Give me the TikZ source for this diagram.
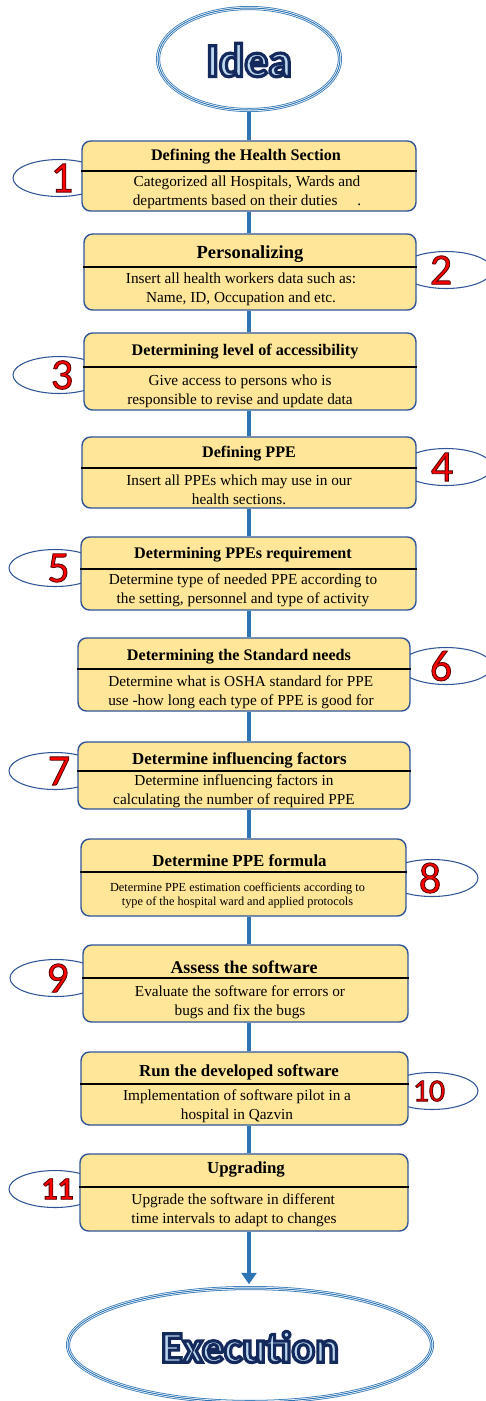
\documentclass[tikz,border=0pt]{standalone}
\usepackage{fontspec}
\setmainfont{Liberation Serif}
\newfontfamily\calibri{Carlito}
\usepackage{xcolor}
\usetikzlibrary{arrows.meta,shapes.geometric}

\definecolor{boxfill}{HTML}{FFE699}
\definecolor{boxline}{HTML}{2F5597}
\definecolor{flowblue}{HTML}{2E75B6}
\definecolor{letterfill}{HTML}{BDD7EE}
\definecolor{numred}{HTML}{FF0000}

% glyphs filled with the current colour and stroked with #1 (r g b), width #2
\newcommand{\strokedtext}[3]{\special{pdf:literal direct 2 Tr #2 w #1 RG}#3\special{pdf:literal direct 0 Tr}}
\newcommand{\bignum}[1]{\strokedtext{0.35 0 0}{0.5}{#1}}
\newcommand{\bigword}[1]{\strokedtext{0.08 0.16 0.36}{1.8}{#1}}

\begin{document}
\begin{tikzpicture}[x=0.02cm, y=-0.02cm,
  stepbox/.style={draw=boxline, line width=0.8pt, fill=boxfill, rounded corners=0.17cm, inner sep=0pt},
  steptitle/.style={font=\fontsize{9.2}{11}\selectfont\bfseries, inner sep=0pt},
  stepbody/.style={font=\fontsize{8.7}{10.8}\selectfont, align=center, inner sep=0pt},
  divider/.style={line width=0.7pt, black},
  numring/.style={ellipse, draw=boxline, line width=0.6pt, fill=white, minimum width=1.84cm, minimum height=0.74cm, inner sep=0pt},
  digit/.style={font=\calibri\fontsize{25}{25}\selectfont, text=numred, inner sep=0pt},
  endring/.style={ellipse, draw=flowblue, line width=2.3pt, fill=white, inner sep=0pt,
    postaction={draw=white, line width=1.4pt}, postaction={draw=flowblue, line width=0.55pt}},
  endtext/.style={font=\calibri\bfseries\fontsize{27}{27}\selectfont, text=letterfill},
  flow/.style={draw=flowblue, line width=2.2pt}
]
\useasboundingbox (0,0) rectangle (485,1401);

% numbered tabs behind the steps
\node[numring, label={[digit, xshift=0.06cm]center:\bignum{1}}] (n1) at (59,178) {};
\node[numring, label={[digit, xshift=-0.1cm]center:\bignum{2}}] (n2) at (446,270) {};
\node[numring, label={[digit, xshift=0.06cm]center:\bignum{3}}] (n3) at (59,375) {};
\node[numring, label={[digit, xshift=-0.08cm]center:\bignum{4}}] (n4) at (446,467) {};
\node[numring, label={[digit, xshift=0.07cm]center:\bignum{5}}] (n5) at (55,568) {};
\node[numring, label={[digit, xshift=-0.1cm]center:\bignum{6}}] (n6) at (446,666) {};
\node[numring, label={[digit, xshift=0.08cm]center:\bignum{7}}] (n7) at (55,771) {};
\node[numring, label={[digit, xshift=-0.04cm]center:\bignum{8}}] (n8) at (432,878) {};
\node[numring, label={[digit, xshift=0.03cm]center:\bignum{9}}] (n9) at (56,978) {};
\node[numring, label={[digit, font=\calibri\fontsize{18}{18}\selectfont, xshift=-0.06cm]center:\bignum{10}}] (n10) at (432,1091) {};
\node[numring, label={[digit, font=\calibri\bfseries\fontsize{18}{18}\selectfont, xshift=0.05cm]center:\bignum{11}}] (n11) at (55,1189) {};

% steps
\node[stepbox, minimum width=6.68cm, minimum height=1.40cm] (s1) at (249,176) {};
\node[steptitle] (t1) at (246,157) {Defining the Health Section};
\draw[divider] (s1.west |- 0,171) -- (s1.east |- 0,171);
\node[stepbody] (b1) at (247,192) {Categorized all Hospitals, Wards and\\departments based on their duties\hspace{1.3em}.};

\node[stepbox, minimum width=6.64cm, minimum height=1.52cm] (s2) at (250,272) {};
\node[steptitle, font=\fontsize{10.5}{12}\selectfont\bfseries] (t2) at (250,254) {Personalizing};
\draw[divider] (s2.west |- 0,267) -- (s2.east |- 0,267);
\node[stepbody] (b2) at (241,289) {Insert all health workers data such as:\\Name, ID, Occupation and etc.};

\node[stepbox, minimum width=6.64cm, minimum height=1.54cm] (s3) at (250,371.5) {};
\node[steptitle] (t3) at (245,352) {Determining level of accessibility};
\draw[divider] (s3.west |- 0,367) -- (s3.east |- 0,367);
\node[stepbody] (b3) at (240,391) {Give access to persons who is\\responsible to revise and update data};

\node[stepbox, minimum width=6.68cm, minimum height=1.42cm] (s4) at (249,472.5) {};
\node[steptitle] (t4) at (249,454) {Defining PPE};
\draw[divider] (s4.west |- 0,468) -- (s4.east |- 0,468);
\node[stepbody] (b4) at (239,490) {Insert all PPEs which may use in our\\health sections.};

\node[stepbox, minimum width=6.70cm, minimum height=1.46cm] (s5) at (248.5,573.5) {};
\node[steptitle] (t5) at (243,555) {Determining PPEs requirement};
\draw[divider] (s5.west |- 0,569) -- (s5.east |- 0,569);
\node[stepbody] (b5) at (243,590) {Determine type of needed PPE according to\\the setting, personnel and type of activity};

\node[stepbox, minimum width=6.64cm, minimum height=1.46cm] (s6) at (244,674.5) {};
\node[steptitle] (t6) at (239,657) {Determining the Standard needs};
\draw[divider] (s6.west |- 0,669) -- (s6.east |- 0,669);
\node[stepbody, align=left] (b6) at (241,692) {Determine what is OSHA standard for PPE\\use -how long each type of PPE is good for};

\node[stepbox, minimum width=6.64cm, minimum height=1.34cm] (s7) at (244,775.5) {};
\node[steptitle, font=\fontsize{9.6}{11}\selectfont\bfseries] (t7) at (239.5,760) {Determine influencing factors};
\draw[divider] (s7.west |- 0,771) -- (s7.east |- 0,771);
\node[stepbody] (b7) at (234,791) {Determine influencing factors in\\calculating the number of required PPE};

\node[stepbox, minimum width=6.50cm, minimum height=1.54cm] (s8) at (243.5,877.5) {};
\node[steptitle, font=\fontsize{9.6}{11}\selectfont\bfseries] (t8) at (239.5,861) {Determine PPE formula};
\draw[divider] (s8.west |- 0,872) -- (s8.east |- 0,872);
\node[stepbody, font=\fontsize{7}{8.2}\selectfont] (b8) at (237.5,895.5) {Determine PPE estimation coefficients according to\\type of the hospital ward and applied protocols};

\node[stepbox, minimum width=6.50cm, minimum height=1.54cm] (s9) at (245.5,983.5) {};
\node[steptitle, font=\fontsize{10.2}{12}\selectfont\bfseries] (t9) at (244,967) {Assess the software};
\draw[divider] (s9.west |- 0,978) -- (s9.east |- 0,978);
\node[stepbody] (b9) at (240,1002) {Evaluate the software for errors or\\bugs and fix the bugs};

\node[stepbox, minimum width=6.54cm, minimum height=1.46cm] (s10) at (244.5,1088.5) {};
\node[steptitle, font=\fontsize{9.6}{11}\selectfont\bfseries] (t10) at (239,1072) {Run the developed software};
\draw[divider] (s10.west |- 0,1084) -- (s10.east |- 0,1084);
\node[stepbody] (b10) at (237,1106) {Implementation of software pilot in a\\hospital in Qazvin};

\node[stepbox, minimum width=6.56cm, minimum height=1.54cm] (s11) at (244,1192.5) {};
\node[steptitle, font=\fontsize{9.6}{11}\selectfont\bfseries] (t11) at (246,1169) {Upgrading};
\draw[divider] (s11.west |- 0,1187) -- (s11.east |- 0,1187);
\node[stepbody, align=left] (b11) at (234,1210) {Upgrade the software in different\\time intervals to adapt to changes};

% start and end
\node[endring, minimum width=3.64cm, minimum height=2.04cm] (idea) at (249,59) {};
\node[endtext] (ideaword) at (249,60) {\bigword{Idea}};
\node[endring, minimum width=7.28cm, minimum height=2.28cm] (exec) at (250,1345) {};
\node[endtext, font=\calibri\bfseries\fontsize{25}{25}\selectfont] (execword) at (250,1347) {\bigword{Execution}};

% flow line
\draw[flow] (idea) -- (idea |- s1.north);
\draw[flow] (idea |- s1.south) -- (idea |- s2.north);
\draw[flow] (idea |- s2.south) -- (idea |- s3.north);
\draw[flow] (idea |- s3.south) -- (idea |- s4.north);
\draw[flow] (idea |- s4.south) -- (idea |- s5.north);
\draw[flow] (idea |- s5.south) -- (idea |- s6.north);
\draw[flow] (idea |- s6.south) -- (idea |- s7.north);
\draw[flow] (idea |- s7.south) -- (idea |- s8.north);
\draw[flow] (idea |- s8.south) -- (idea |- s9.north);
\draw[flow] (idea |- s9.south) -- (idea |- s10.north);
\draw[flow] (idea |- s10.south) -- (idea |- s11.north);
\draw[flow, -{Triangle[width=8.5pt, length=6.5pt]}, shorten >=1pt] (idea |- s11.south) -- (idea |- exec.north);
\end{tikzpicture}
\end{document}
